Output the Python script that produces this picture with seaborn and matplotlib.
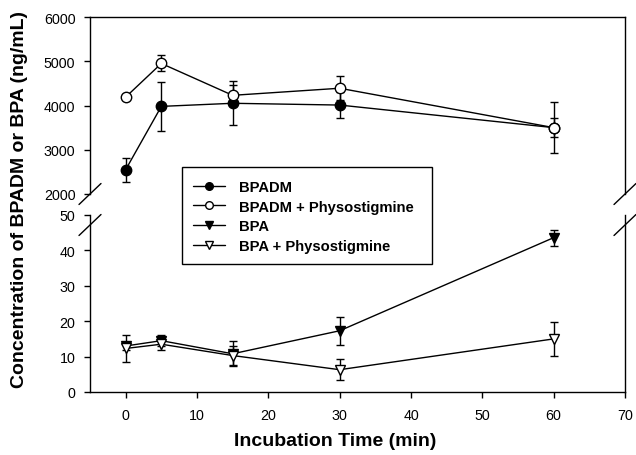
import matplotlib
matplotlib.use("Agg")
import matplotlib.pyplot as plt
from matplotlib.lines import Line2D
from matplotlib.patches import Rectangle
import seaborn as sns
import pandas as pd

# ---- data ----
time = [0, 5, 15, 30, 60]
bpadm = [2550, 3980, 4050, 4010, 3500]
bpadm_err = [270, 550, 500, 300, 220]
bpadm_phys = [4190, 4950, 4230, 4390, 3500]
bpadm_phys_err = [60, 180, 230, 270, 580]
bpa = [13.0, 14.5, 10.8, 17.3, 43.6]
bpa_err = [1.2, 1.5, 3.5, 4.0, 2.3]
bpa_phys = [12.3, 13.5, 10.3, 6.3, 15.0]
bpa_phys_err = [3.7, 1.5, 2.8, 3.0, 4.8]

top_ticks = [2000, 3000, 4000, 5000, 6000]
bot_ticks = [0, 10, 20, 30, 40, 50]
x_ticks = [0, 10, 20, 30, 40, 50, 60, 70]

sns.set_style("ticks")
plt.rcParams['font.family'] = ['Liberation Sans', 'DejaVu Sans']
plt.rcParams['text.color'] = 'black'
plt.rcParams['axes.labelcolor'] = 'black'
plt.rcParams['xtick.color'] = 'black'
plt.rcParams['ytick.color'] = 'black'

W, H = 636, 456
fig = plt.figure(figsize=(W / 100, H / 100), dpi=100)


def fx(px):
    return px / W


def fy(py):
    return 1 - py / H


L, R = 90, 625
ax_top = fig.add_axes([fx(L), fy(195), fx(R) - fx(L), fy(18) - fy(195)])
ax_bot = fig.add_axes([fx(L), fy(393), fx(R) - fx(L), fy(216) - fy(393)])

series_top = [
    ("BPADM", bpadm, bpadm_err, "o", "black"),
    ("BPADM + Physostigmine", bpadm_phys, bpadm_phys_err, "o", "white"),
]
series_bot = [
    ("BPA", bpa, bpa_err, "v", "black"),
    ("BPA + Physostigmine", bpa_phys, bpa_phys_err, "v", "white"),
]

handles = []
for ax, series in ((ax_top, series_top), (ax_bot, series_bot)):
    for name, vals, errs, mk, fc in series:
        df = pd.DataFrame({"time": time, "value": vals})
        ax.errorbar(df["time"], df["value"], yerr=errs, fmt="none",
                    ecolor="black", elinewidth=1.0, capsize=3, capthick=1.0,
                    zorder=2)
        sns.lineplot(data=df, x="time", y="value", ax=ax, color="black",
                     linewidth=1.0, marker=mk, markersize=7.5,
                     markerfacecolor=fc, markeredgecolor="black",
                     markeredgewidth=1.0, zorder=3, legend=False)
        handles.append(Line2D([], [], color="black", linewidth=1.0, marker=mk,
                              markersize=5.5, markerfacecolor=fc,
                              markeredgecolor="black", label=name))

for ax in (ax_top, ax_bot):
    ax.set_xlim(-5, 70)
    ax.set_xlabel("")
    ax.set_ylabel("")
    ax.spines["right"].set_visible(True)
    for s in ax.spines.values():
        s.set_linewidth(1.0)
        s.set_color("black")
    ax.tick_params(axis="both", direction="out", length=4.5, width=1.0,
                   labelsize=10.3, colors="black", pad=6)

ax_top.set_ylim(2000, 6000)
ax_top.set_yticks(top_ticks)
ax_top.spines["top"].set_visible(True)
ax_top.spines["bottom"].set_visible(False)
ax_top.set_xticks([])
ax_top.tick_params(axis="x", bottom=False, labelbottom=False)

ax_bot.set_ylim(0, 50)
ax_bot.set_yticks(bot_ticks)
ax_bot.set_xticks(x_ticks)
ax_bot.spines["top"].set_visible(False)
ax_bot.tick_params(axis="x", pad=7)

# break marks
for xc in (L, R):
    for yc in (195, 226):
        fig.add_artist(Line2D([fx(xc - 11), fx(xc + 11)],
                              [fy(yc + 10.5), fy(yc - 10.5)],
                              color="black", linewidth=1.0))

# legend box and legend
fig.add_artist(Rectangle((fx(182), fy(265)), fx(432) - fx(182), fy(168) - fy(265),
                         facecolor="white", edgecolor="black", linewidth=1.0,
                         zorder=5))
leg = fig.legend(handles=handles, loc="upper left",
                 bbox_to_anchor=(fx(193), fy(181)), frameon=False,
                 prop={"weight": "bold", "size": 10.6}, handlelength=2.2,
                 labelspacing=0.38, handletextpad=0.9, borderaxespad=0,
                 borderpad=0)
leg.set_zorder(6)

fig.text(fx(335), fy(442), "Incubation Time (min)", ha="center", va="center",
         fontsize=14, fontweight="bold")
fig.text(fx(20), fy(200), "Concentration of BPADM or BPA (ng/mL)", ha="center",
         va="center", rotation=90, fontsize=14, fontweight="bold")

fig.savefig("out.png", dpi=100)
